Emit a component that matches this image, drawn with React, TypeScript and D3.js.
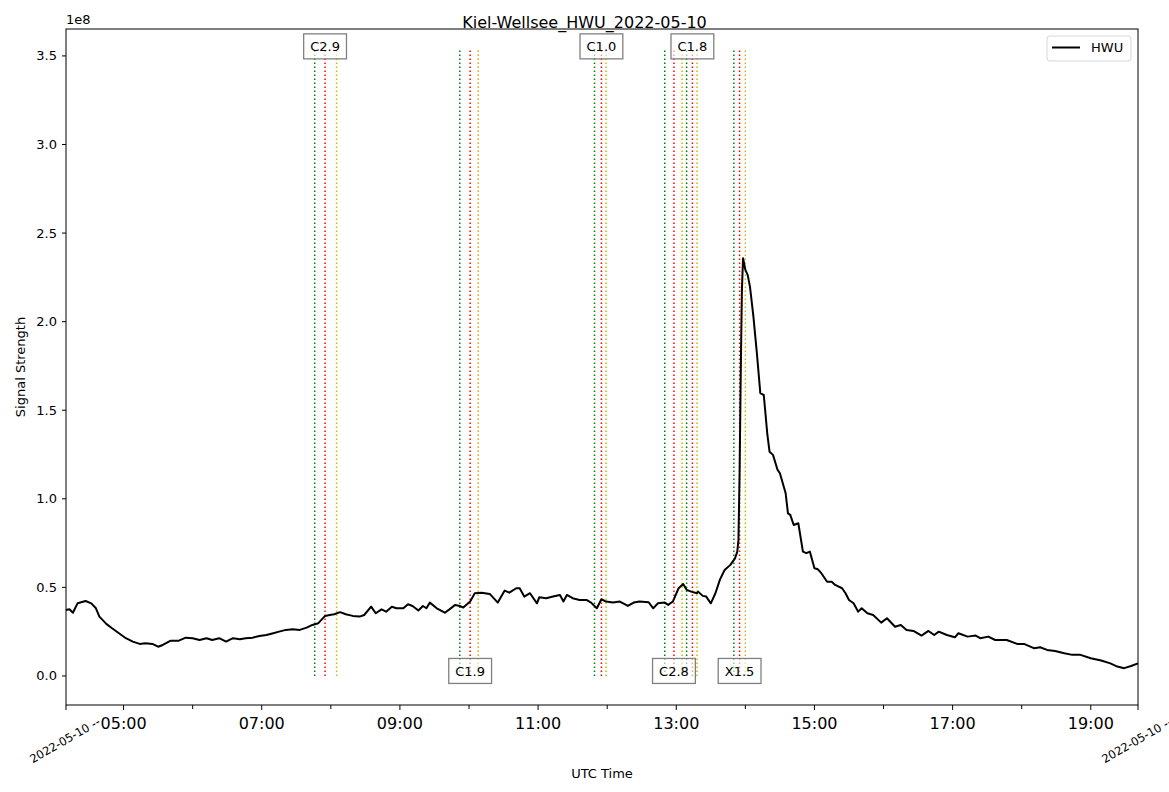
import * as d3 from 'd3';
import React from 'react';

// HWU receiver, signal strength in units of 1e8
const sampleTimes = [
  '04:10', '04:13', '04:16', '04:20', '04:27', '04:32', '04:36', '04:39', '04:45', '04:50',
  '04:56', '05:02', '05:08', '05:14', '05:19', '05:25', '05:30', '05:34', '05:41', '05:48',
  '05:54', '06:00', '06:06', '06:12', '06:17', '06:23', '06:29', '06:35', '06:41', '06:46',
  '06:52', '06:58', '07:04', '07:10', '07:15', '07:21', '07:27', '07:33', '07:39', '07:44',
  '07:49', '07:55', '07:59', '08:03', '08:08', '08:13', '08:19', '08:25', '08:29', '08:35',
  '08:39', '08:44', '08:48', '08:53', '08:57', '09:03', '09:07', '09:11', '09:16', '09:20',
  '09:23', '09:26', '09:32', '09:39', '09:43', '09:48', '09:52', '09:55', '10:01', '10:05',
  '10:11', '10:18', '10:25', '10:31', '10:35', '10:41', '10:44', '10:48', '10:53', '10:59',
  '11:01', '11:07', '11:13', '11:19', '11:22', '11:25', '11:30', '11:36', '11:42', '11:46',
  '11:51', '11:55', '11:59', '12:05', '12:11', '12:18', '12:23', '12:28', '12:36', '12:40',
  '12:44', '12:50', '12:53', '12:57', '13:02', '13:06', '13:09', '13:13', '13:18', '13:19',
  '13:23', '13:26', '13:30', '13:34', '13:38', '13:42', '13:47', '13:51', '13:53', '13:54',
  '13:55', '13:56', '13:57', '13:58', '14:00', '14:02', '14:04', '14:07', '14:10', '14:13',
  '14:16', '14:19', '14:21', '14:24', '14:28', '14:30', '14:35', '14:37', '14:39', '14:42',
  '14:46', '14:50', '14:53', '14:56', '15:00', '15:03', '15:06', '15:11', '15:15', '15:18',
  '15:24', '15:27', '15:30', '15:34', '15:38', '15:41', '15:46', '15:51', '15:58', '16:03',
  '16:10', '16:15', '16:20', '16:26', '16:33', '16:39', '16:44', '16:48', '16:55', '17:02',
  '17:05', '17:13', '17:20', '17:24', '17:31', '17:37', '17:47', '17:56', '18:02', '18:11',
  '18:16', '18:22', '18:29', '18:37', '18:44', '18:51', '19:00', '19:09', '19:17', '19:23',
  '19:29', '19:35', '19:41',
];

const signalE8 = [
  0.372, 0.376, 0.357, 0.41, 0.423, 0.41, 0.382, 0.335, 0.294, 0.269,
  0.241, 0.213, 0.194, 0.181, 0.185, 0.181, 0.165, 0.175, 0.199, 0.199,
  0.216, 0.213, 0.203, 0.213, 0.203, 0.213, 0.194, 0.213, 0.207, 0.213,
  0.216, 0.226, 0.231, 0.241, 0.25, 0.26, 0.264, 0.26, 0.273, 0.288,
  0.297, 0.339, 0.344, 0.348, 0.36, 0.348, 0.339, 0.335, 0.344, 0.391,
  0.354, 0.376, 0.363, 0.391, 0.382, 0.382, 0.405, 0.395, 0.369, 0.395,
  0.382, 0.414, 0.382, 0.357, 0.376, 0.401, 0.395, 0.386, 0.42, 0.467,
  0.47, 0.463, 0.414, 0.482, 0.47, 0.495, 0.495, 0.448, 0.467, 0.41,
  0.444, 0.439, 0.448, 0.457, 0.42, 0.457, 0.439, 0.429, 0.429, 0.414,
  0.382, 0.433, 0.42, 0.414, 0.42, 0.395, 0.414, 0.42, 0.416, 0.382,
  0.41, 0.414, 0.401, 0.42, 0.495, 0.519, 0.486, 0.476, 0.467, 0.476,
  0.452, 0.448, 0.41, 0.467, 0.545, 0.598, 0.627, 0.664, 0.702, 0.768,
  1.144, 1.709, 2.179, 2.358, 2.292, 2.264, 2.198, 2.028, 1.822, 1.596,
  1.586, 1.37, 1.266, 1.248, 1.163, 1.144, 1.031, 0.918, 0.909, 0.852,
  0.862, 0.702, 0.693, 0.702, 0.608, 0.602, 0.58, 0.532, 0.532, 0.514,
  0.495, 0.467, 0.429, 0.41, 0.363, 0.382, 0.354, 0.344, 0.301, 0.326,
  0.278, 0.288, 0.26, 0.254, 0.228, 0.254, 0.231, 0.25, 0.231, 0.218,
  0.241, 0.222, 0.228, 0.213, 0.222, 0.203, 0.203, 0.181, 0.181, 0.156,
  0.162, 0.147, 0.141, 0.128, 0.119, 0.119, 0.1, 0.087, 0.071, 0.053,
  0.044, 0.056, 0.071,
];

// GOES flare list for the day
const flareClass = ['C2.9', 'C1.9', 'C1.0', 'C2.8', 'C1.8', 'X1.5'];
const flareStart = ['07:46', '09:52', '11:49', '12:50', '13:09', '13:50'];
const flarePeak = ['07:55', '10:01', '11:55', '12:58', '13:14', '13:55'];
const flareEnd = ['08:05', '10:08', '11:59', '13:05', '13:18', '14:00'];

const W = 1169;
const H = 792;
const margin = { top: 29, right: 31, bottom: 87, left: 66 };
const font = '"DejaVu Sans", sans-serif';

const App = () => {
  const parse = d3.timeParse('%H:%M');
  const times = sampleTimes.map((t) => parse(t) as Date);
  const data = times.map((t, i) => ({ t, v: signalE8[i] }));

  const peak = d3.max(signalE8) as number;
  const vTop = peak * 1.5;

  const x = d3
    .scaleTime()
    .domain([times[0], times[times.length - 1]])
    .range([margin.left, W - margin.right]);
  const y = d3.scaleLinear().domain([-0.164, 3.652]).range([H - margin.bottom, margin.top]);

  const line = d3
    .line<any>()
    .x((d) => x(d.t))
    .y((d) => y(d.v));

  const hours = d3.timeHour.range(x.domain()[0], x.domain()[1]);
  const majorTicks = hours.filter((d) => d.getHours() % 2 === 1);
  const minorTicks = hours.filter((d) => d.getHours() % 2 === 0);
  const fmt = d3.timeFormat('%H:%M');
  const yTicks = y.ticks(8).filter((v) => v >= 0);

  const x0 = margin.left;
  const x1 = W - margin.right;
  const y0 = H - margin.bottom;
  const y1 = margin.top;

  const vlines: any[] = [];
  flareClass.forEach((c, i) => {
    vlines.push({ t: parse(flareStart[i]), color: 'green' });
    vlines.push({ t: parse(flarePeak[i]), color: 'red' });
    vlines.push({ t: parse(flareEnd[i]), color: '#bfbf00' });
  });

  return (
    <svg
      width={W}
      height={H}
      style={{ position: 'absolute', left: 0, top: 0, background: '#fff' }}
      fontFamily={font}
    >
      <text x={W / 2} y={28} textAnchor="middle" fontSize={16}>
        Kiel-Wellsee_HWU_2022-05-10
      </text>

      {vlines.map((l, i) => (
        <line
          key={'v' + i}
          x1={x(l.t)}
          x2={x(l.t)}
          y1={y(0)}
          y2={y(vTop)}
          stroke={l.color}
          strokeWidth={1.5}
          strokeDasharray="1.5,2.5"
        />
      ))}

      <path d={line(data) as string} fill="none" stroke="#000" strokeWidth={2} strokeLinejoin="round" />

      {flareClass.map((c, i) => {
        const cx = x(parse(flarePeak[i]) as Date);
        const cy = i % 2 === 0 ? y(vTop) - 3 : y(0) - 5;
        const bw = c.length * 8.2 + 10;
        return (
          <g key={'lab' + c}>
            <rect
              x={cx - bw / 2}
              y={cy - 12.5}
              width={bw}
              height={25}
              fill="#fff"
              fillOpacity={0.6}
              stroke="#808080"
              strokeWidth={1.3}
            />
            <text x={cx} y={cy + 5} textAnchor="middle" fontSize={13}>
              {c}
            </text>
          </g>
        );
      })}

      <rect x={x0} y={y1} width={x1 - x0} height={y0 - y1} fill="none" stroke="#000" strokeWidth={1} />

      {yTicks.map((v) => (
        <g key={'y' + v}>
          <line x1={x0 - 4} x2={x0} y1={y(v)} y2={y(v)} stroke="#000" />
          <text x={x0 - 9} y={y(v) + 4.5} textAnchor="end" fontSize={13}>
            {v.toFixed(1)}
          </text>
        </g>
      ))}
      <text x={x0} y={24} fontSize={13}>
        1e8
      </text>

      {majorTicks.map((d) => (
        <g key={'xm' + d.getTime()}>
          <line x1={x(d)} x2={x(d)} y1={y0} y2={y0 + 5} stroke="#000" />
          <text x={x(d)} y={y0 + 24} textAnchor="middle" fontSize={16}>
            {fmt(d)}
          </text>
        </g>
      ))}
      {minorTicks.map((d) => (
        <line key={'xn' + d.getTime()} x1={x(d)} x2={x(d)} y1={y0} y2={y0 + 4} stroke="#000" />
      ))}
      {[x0, x1].map((px) => (
        <g key={'edge' + px}>
          <line x1={px} x2={px} y1={y0} y2={y0 + 5} stroke="#000" />
          <text
            transform={`translate(${px + 35},${y0 + 19}) rotate(-30)`}
            textAnchor="end"
            fontSize={11.5}
          >
            2022-05-10 --
          </text>
        </g>
      ))}

      <text x={(x0 + x1) / 2} y={778} textAnchor="middle" fontSize={13}>
        UTC Time
      </text>
      <text transform={`translate(25,${(y0 + y1) / 2}) rotate(-90)`} textAnchor="middle" fontSize={13}>
        Signal Strength
      </text>

      <g>
        <rect x={1047} y={36} width={84} height={25} rx={3} fill="#fff" fillOpacity={0.8} stroke="#d6d6d6" />
        <line x1={1052} x2={1080} y1={47.5} y2={47.5} stroke="#000" strokeWidth={2} />
        <text x={1091} y={52} fontSize={13}>
          HWU
        </text>
      </g>
    </svg>
  );
};

export default App;
